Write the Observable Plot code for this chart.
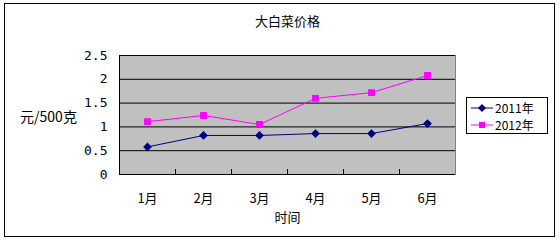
<!DOCTYPE html>
<html><head><meta charset="utf-8">
<script src="https://cdn.jsdelivr.net/npm/d3@7"></script>
<script src="https://cdn.jsdelivr.net/npm/@observablehq/plot@0.6"></script>
<style>
body{margin:0;background:#fff;}
#wrap{position:relative;width:560px;height:242px;overflow:hidden;font-family:"Noto Sans CJK SC",sans-serif;}
#border{position:absolute;left:4px;top:3px;width:551px;height:234px;border:1px solid #000;box-sizing:border-box;}
#chart{position:absolute;left:0;top:0;}
#legend{position:absolute;left:466px;top:97px;width:82px;height:37px;border:1px solid #000;box-sizing:border-box;background:#fff;font-size:12px;padding-top:1px;overflow:hidden;}
#legend div{display:flex;align-items:center;height:17px;line-height:17px;}
#legend span{line-height:17px;height:17px;display:block;}
#legend svg{margin:0 2px 0 4px;flex:none;}
</style></head>
<body><div id="wrap"><div id="border"></div><div id="chart"></div><div id="legend"></div></div>
<script>
const months = ["1月","2月","3月","4月","5月","6月"];
const series = ["2011年","2012年"];
const v2011 = [0.58,0.82,0.82,0.86,0.86,1.07];
const v2012 = [1.11,1.24,1.05,1.60,1.72,2.08];
const yTicks = [0,0.5,1,1.5,2,2.5];
const colors = ["#000080","#FF00FF"];
const symbols = ["diamond2","square"];

const data = [];
months.forEach((m,i)=>{
  data.push({m, i:i+1, s:series[0], v:v2011[i]});
  data.push({m, i:i+1, s:series[1], v:v2012[i]});
});
const bounds = months.slice(1).map((_,i)=>i+1.5);

const chart = Plot.plot({
  width:560, height:242,
  marginLeft:119, marginRight:105, marginTop:55, marginBottom:68,
  style:{fontFamily:"'Noto Sans CJK SC',sans-serif", fontSize:"12px", background:"transparent", overflow:"visible"},
  x:{domain:[0.5,6.5], label:null},
  y:{domain:[0,2.5], label:null},
  color:{domain:series, range:colors},
  symbol:{domain:series, range:symbols},
  marks:[
    Plot.frame({fill:"#C0C0C0", stroke:"#808080"}),
    Plot.gridY(yTicks, {stroke:"#000", strokeOpacity:1}),
    Plot.ruleX([0.5],{stroke:"#000"}),
    Plot.ruleY([0],{stroke:"#000"}),
    Plot.ruleX(bounds,{y1:0,y2:0.105,stroke:"#000"}),
    Plot.axisY({ticks:yTicks, tickSize:0, tickPadding:12, fontFamily:"'DejaVu Sans Mono',monospace", fontSize:13, tickFormat:d=>String(d), label:null}),
    Plot.axisX({ticks:months.map((_,i)=>i+1), tickSize:0, tickPadding:19, tickFormat:d=>months[d-1], fontSize:13, label:null}),
    Plot.line(data,{x:"i", y:"v", z:"s", stroke:"s", strokeWidth:1}),
    Plot.dot(data,{x:"i", y:"v", symbol:"s", fill:"s", stroke:"s", r:3}),
    Plot.text(["大白菜价格"],{frameAnchor:"top", dy:-39, fontSize:13, fill:"#000"}),
    Plot.text(["时间"],{frameAnchor:"bottom", dy:47, fontSize:13, fill:"#000"}),
    Plot.text(["元/500克"],{frameAnchor:"left", dx:-71, dy:3, fontSize:14, fill:"#000", textAnchor:"middle"})
  ]
});
document.getElementById("chart").appendChild(chart);

const leg = document.getElementById("legend");
series.forEach((s,k)=>{
  const row = document.createElement("div");
  const mk = k===0
    ? `<polygon points="11,2 15,6 11,10 7,6" fill="${colors[k]}"/>`
    : `<rect x="8" y="3" width="6" height="6" fill="${colors[k]}"/>`;
  row.innerHTML = `<svg width="22" height="12"><line x1="0" y1="6" x2="22" y2="6" stroke="${colors[k]}" stroke-width="1"/>${mk}</svg><span>${s}</span>`;
  leg.appendChild(row);
});
</script></body></html>
